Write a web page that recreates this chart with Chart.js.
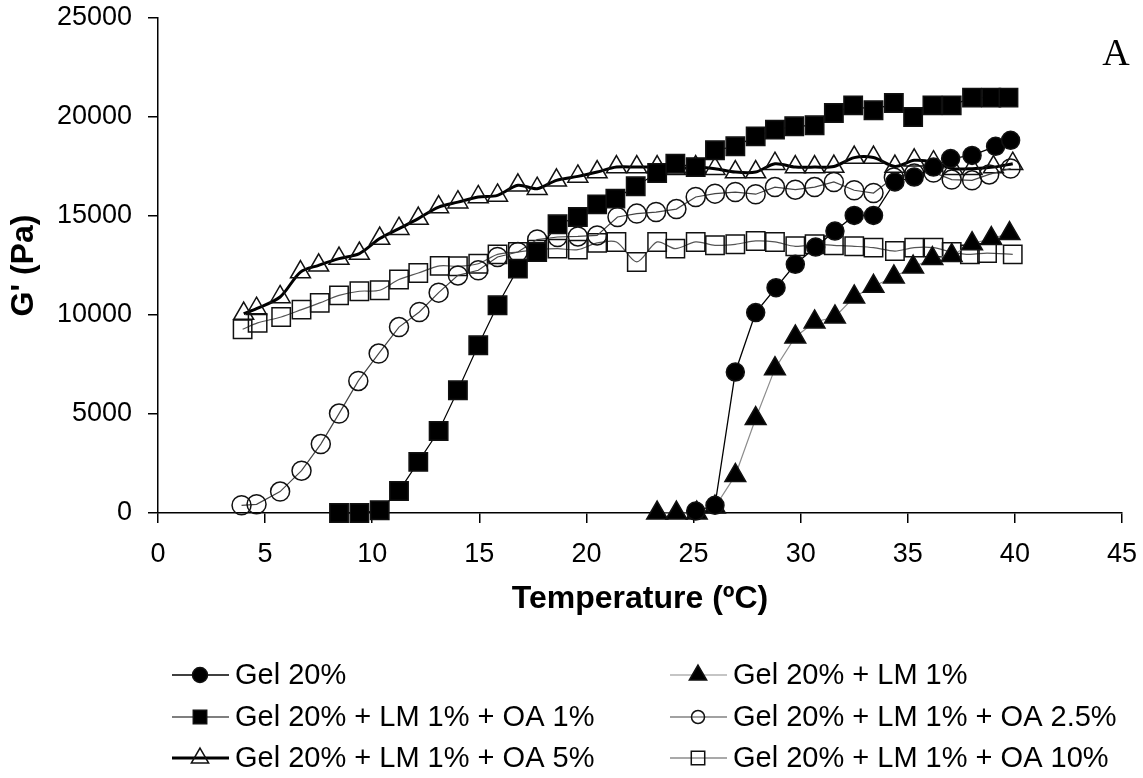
<!DOCTYPE html>
<html>
<head>
<meta charset="utf-8">
<title>G' vs Temperature</title>
<script src="https://cdn.jsdelivr.net/npm/chart.js"></script>
<style>
  body { margin: 0; background: #fff; }
  #wrap { width: 1143px; height: 778px; }
</style>
</head>
<body>
<div id="wrap"><canvas id="myChart" width="1143" height="778"></canvas></div>
<script>
// storage modulus G' (Pa) against temperature (ºC), one pair of arrays per gel
const gel20T = [25.1, 26.0, 26.95, 27.9, 28.85, 29.75, 30.7, 31.6, 32.5, 33.4, 34.4, 35.3, 36.2, 37.0, 38.0, 39.1, 39.8];
const gel20G = [100, 390, 7120, 10120, 11380, 12560, 13430, 14240, 15030, 15030, 16720, 16970, 17470, 17900, 18060, 18520, 18820];

const lmT = [23.3, 24.2, 25.15, 26.0, 26.95, 27.9, 28.8, 29.75, 30.65, 31.6, 32.5, 33.4, 34.35, 35.25, 36.15, 37.05, 38.0, 38.9, 39.75];
const lmG = [0, 0, 0, 300, 1900, 4770, 7290, 8890, 9650, 9900, 10910, 11450, 11920, 12420, 12850, 13010, 13600, 13860, 14110];

const oa1T = [8.45, 9.4, 10.35, 11.25, 12.15, 13.1, 14.0, 14.95, 15.85, 16.8, 17.7, 18.65, 19.6, 20.5, 21.35, 22.3, 23.3, 24.15, 25.1, 26.0,
  26.95, 27.9, 28.8, 29.7, 30.65, 31.55, 32.45, 33.4, 34.35, 35.25, 36.15, 37.05, 38.0, 38.9, 39.7];
const oa1G = [0, 0, 140, 1110, 2580, 4140, 6200, 8470, 10490, 12340, 13180, 14580, 14950, 15590, 15880, 16500, 17170, 17640, 17470, 18320,
  18520, 19020, 19360, 19530, 19580, 20200, 20590, 20340, 20710, 20000, 20590, 20590, 20980, 20980, 20980];

const oa25T = [3.9, 4.6, 5.7, 6.7, 7.6, 8.45, 9.35, 10.3, 11.25, 12.2, 13.1, 14.0, 14.95, 15.85, 16.8, 17.7, 18.65, 19.6, 20.5, 21.45,
  22.35, 23.25, 24.2, 25.1, 26.0, 26.95, 27.9, 28.8, 29.75, 30.65, 31.55, 32.5, 33.4, 34.35, 35.3, 36.2, 37.05, 38.0, 38.8, 39.8];
const oa25G = [390, 440, 1080, 2140, 3480, 5020, 6670, 8050, 9390, 10150, 11130, 12000, 12260, 12930, 13180, 13810, 13940, 13970, 14020, 14950,
  15120, 15200, 15350, 15960, 16130, 16210, 16100, 16460, 16330, 16460, 16720, 16300, 16160, 16950, 17150, 17200, 16840, 16800, 17100, 17400];

const oa5T = [4.0, 4.6, 5.7, 6.65, 7.5, 8.45, 9.4, 10.35, 11.25, 12.15, 13.1, 14.0, 14.95, 15.85, 16.8, 17.7, 18.6, 19.6, 20.5, 21.4,
  22.35, 23.3, 24.15, 25.1, 26.0, 26.95, 27.9, 28.8, 29.75, 30.65, 31.55, 32.5, 33.4, 34.4, 35.3, 36.2, 37.1, 38.0, 39.0, 39.9];
const oa5G = [10070, 10320, 10910, 12170, 12510, 12850, 13100, 13860, 14360, 14870, 15450, 15700, 15960, 16040, 16550, 16380, 16800, 17000, 17220, 17470,
  17470, 17470, 17390, 17470, 17390, 17220, 17220, 17640, 17470, 17470, 17500, 17950, 17950, 17500, 17810, 17720, 17390, 17390, 17470, 17640];

const oa10T = [3.95, 4.65, 5.75, 6.7, 7.55, 8.45, 9.4, 10.35, 11.25, 12.15, 13.15, 14.0, 14.95, 15.85, 16.8, 17.7, 18.65, 19.6, 20.5, 21.4,
  22.35, 23.3, 24.15, 25.1, 26.0, 26.95, 27.9, 28.8, 29.75, 30.65, 31.55, 32.5, 33.4, 34.4, 35.3, 36.2, 37.05, 37.9, 38.7, 39.9];
const oa10G = [9280, 9600, 9900, 10270, 10610, 10990, 11200, 11250, 11790, 12120, 12480, 12460, 12590, 13060, 13180, 13300, 13350, 13300, 13640, 13690,
  12680, 13690, 13350, 13690, 13520, 13570, 13740, 13690, 13470, 13570, 13520, 13470, 13400, 13230, 13400, 13400, 13180, 13060, 13130, 13060];

const seriesNames = [
  'Gel 20%',
  'Gel 20% + LM 1%',
  'Gel 20% + LM 1% + OA 1%',
  'Gel 20% + LM 1% + OA 2.5%',
  'Gel 20% + LM 1% + OA 5%',
  'Gel 20% + LM 1% + OA 10%'
];

const xTicks = [0, 5, 10, 15, 20, 25, 30, 35, 40, 45];
const yTicks = [0, 5000, 10000, 15000, 20000, 25000];

const FONT = "'Liberation Sans', Arial, sans-serif";
const NONE = 'rgba(0,0,0,0)';

function pairs(t, g) {
  return t.map(function (x, i) { return { x: x, y: g[i] }; });
}

// style of each series: line, marker shape, fill
const styles = [
  { line: '#000', width: 1.3, shape: 'circle', r: 9, fill: '#000', tension: 0 },
  { line: '#8c8c8c', width: 1.2, shape: 'triangle', r: 12, fill: '#000', tension: 0 },
  { line: '#000', width: 1.2, shape: 'rect', r: 13, fill: '#000', tension: 0 },
  { line: '#444', width: 1.2, shape: 'circle', r: 9.5, fill: NONE, tension: 0 },
  { line: '#000', width: 3, shape: 'triangle', r: 11.5, fill: NONE, tension: 0.3 },
  { line: '#555', width: 1.2, shape: 'rect', r: 13, fill: NONE, tension: 0.3 }
];
const legendR = [7.5, 10, 9.5, 6.5, 10, 9.5];

const allData = [
  pairs(gel20T, gel20G),
  pairs(lmT, lmG),
  pairs(oa1T, oa1G),
  pairs(oa25T, oa25G),
  pairs(oa5T, oa5G),
  pairs(oa10T, oa10G)
];

const datasets = seriesNames.map(function (name, i) {
  const s = styles[i];
  return {
    label: name,
    data: allData[i],
    showLine: true,
    borderColor: s.line,
    borderWidth: s.width,
    tension: s.tension,
    pointStyle: s.shape,
    pointRadius: s.r,
    pointHoverRadius: s.r,
    pointBackgroundColor: s.fill,
    pointBorderColor: '#111',
    pointBorderWidth: 1.5,
    clip: false
  };
});

// marker for the legend rows, same geometry as the chart's points
function marker(ctx, shape, x, y, r) {
  ctx.beginPath();
  if (shape === 'circle') {
    ctx.arc(x, y, r, 0, Math.PI * 2);
  } else if (shape === 'rect') {
    const h = r * Math.SQRT1_2;
    ctx.rect(x - h, y - h, 2 * h, 2 * h);
  } else {
    ctx.moveTo(x, y - r);
    ctx.lineTo(x + r * Math.sin(Math.PI * 2 / 3), y + r / 2);
    ctx.lineTo(x - r * Math.sin(Math.PI * 2 / 3), y + r / 2);
    ctx.closePath();
  }
  ctx.fill();
  ctx.stroke();
}

const extras = {
  id: 'extras',
  afterDraw: function (chart) {
    const ctx = chart.ctx;
    ctx.save();

    // panel letter
    ctx.fillStyle = '#000';
    ctx.font = "38px 'Liberation Serif', 'Times New Roman', serif";
    ctx.textAlign = 'center';
    ctx.textBaseline = 'alphabetic';
    ctx.fillText('A', 1116, 65);

    // two-column legend
    const cols = [172, 670];
    const rows = [675, 717, 758];
    ctx.font = '29px ' + FONT;
    ctx.textAlign = 'left';
    ctx.textBaseline = 'middle';
    seriesNames.forEach(function (name, i) {
      const s = styles[i];
      const x0 = cols[i % 2];
      const y = rows[Math.floor(i / 2)];
      ctx.strokeStyle = s.line;
      ctx.lineWidth = s.width;
      ctx.beginPath();
      ctx.moveTo(x0, y);
      ctx.lineTo(x0 + 57, y);
      ctx.stroke();
      ctx.fillStyle = s.fill;
      ctx.strokeStyle = '#111';
      ctx.lineWidth = 1.5;
      marker(ctx, s.shape, x0 + 28, y, legendR[i]);
      ctx.fillStyle = '#000';
      ctx.fillText(name, x0 + 63, y + 1);
    });
    ctx.restore();
  }
};

const config = {
  type: 'scatter',
  data: { datasets: datasets },
  options: {
    responsive: false,
    animation: false,
    layout: { padding: { left: 0, top: 18, right: 21, bottom: 160 } },
    plugins: {
      legend: { display: false },
      tooltip: { enabled: false }
    },
    scales: {
      x: {
        type: 'linear',
        min: 0,
        max: 45,
        afterBuildTicks: function (scale) {
          scale.ticks = xTicks.map(function (v) { return { value: v }; });
        },
        afterFit: function (scale) {
          scale.height = 105;
          scale.paddingLeft = 0;
          scale.paddingRight = 0;
        },
        border: { display: true, color: '#000', width: 1.5 },
        grid: { display: true, drawOnChartArea: false, drawTicks: true, tickLength: 10, color: '#000', lineWidth: 1.5 },
        ticks: { color: '#000', padding: 15, maxRotation: 0, font: { family: FONT, size: 27 } },
        title: {
          display: true,
          text: 'Temperature (ºC)',
          color: '#000',
          padding: { top: 4, bottom: 0 },
          font: { family: FONT, size: 32, weight: 'bold' }
        }
      },
      y: {
        type: 'linear',
        min: 0,
        max: 25000,
        afterBuildTicks: function (scale) {
          scale.ticks = yTicks.map(function (v) { return { value: v }; });
        },
        afterFit: function (scale) {
          scale.width = 158;
          scale.paddingTop = 0;
          scale.paddingBottom = 0;
        },
        border: { display: true, color: '#000', width: 1.5 },
        grid: { display: true, drawOnChartArea: false, drawTicks: true, tickLength: 10, color: '#000', lineWidth: 1.5 },
        ticks: {
          color: '#000',
          padding: 16,
          font: { family: FONT, size: 27 },
          callback: function (v) { return String(v); }
        },
        title: {
          display: true,
          text: "G' (Pa)",
          color: '#000',
          padding: { top: 5, bottom: 0 },
          font: { family: FONT, size: 32, weight: 'bold' }
        }
      }
    }
  },
  plugins: [extras]
};

const myChart = new Chart(document.getElementById('myChart'), config);
</script>
</body>
</html>
